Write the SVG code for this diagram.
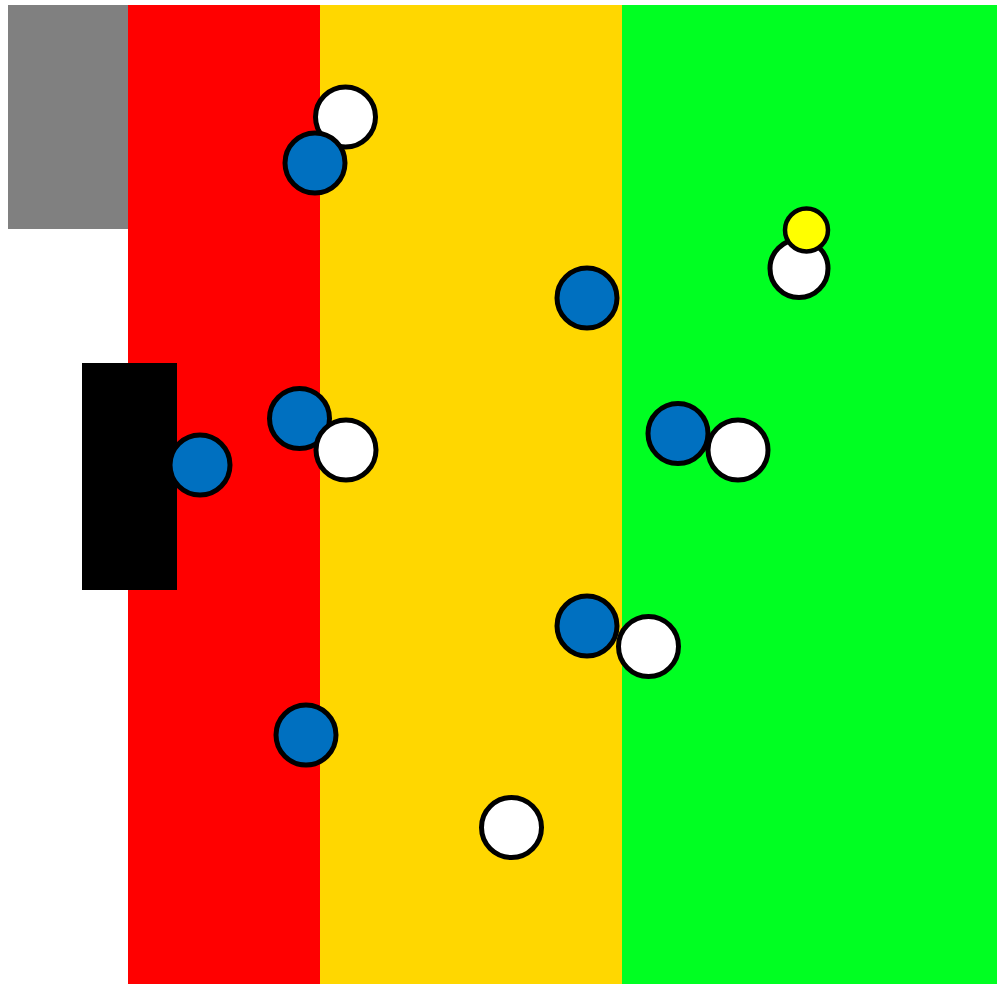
<svg xmlns="http://www.w3.org/2000/svg" width="997" height="984" viewBox="0 0 997 984">
<style>
.c{stroke:#000;stroke-width:5}
.b{fill:#0070C0}
.w{fill:#FFFFFF}
.y{fill:#FFFF00;stroke-width:4.5}
</style>
<rect width="997" height="984" fill="#FFFFFF"/>
<g id="zones">
<rect x="8" y="5" width="120" height="224" fill="#808080"/>
<rect x="128" y="5" width="192" height="979" fill="#FF0000"/>
<rect x="320" y="5" width="302" height="979" fill="#FFD700"/>
<rect x="622" y="5" width="375" height="979" fill="#00FF22"/>
<rect x="82" y="363" width="95" height="227" fill="#000000"/>
</g>
<g id="players">
<circle class="c w" cx="345.5" cy="117" r="30"/>
<circle class="c b" cx="315" cy="163" r="30"/>
<circle class="c b" cx="587" cy="298" r="30"/>
<circle class="c w" cx="799" cy="268.5" r="29"/>
<circle class="c y" cx="806.5" cy="230" r="21.5"/>
<circle class="c b" cx="200" cy="465" r="30"/>
<circle class="c b" cx="299.5" cy="418.5" r="30"/>
<circle class="c w" cx="346" cy="450" r="30"/>
<circle class="c b" cx="678" cy="433.5" r="30"/>
<circle class="c w" cx="738" cy="450" r="30"/>
<circle class="c b" cx="587" cy="626" r="30"/>
<circle class="c w" cx="648.5" cy="646.5" r="30"/>
<circle class="c b" cx="306" cy="735" r="30"/>
<circle class="c w" cx="511.5" cy="827.5" r="30"/>
</g>
</svg>
